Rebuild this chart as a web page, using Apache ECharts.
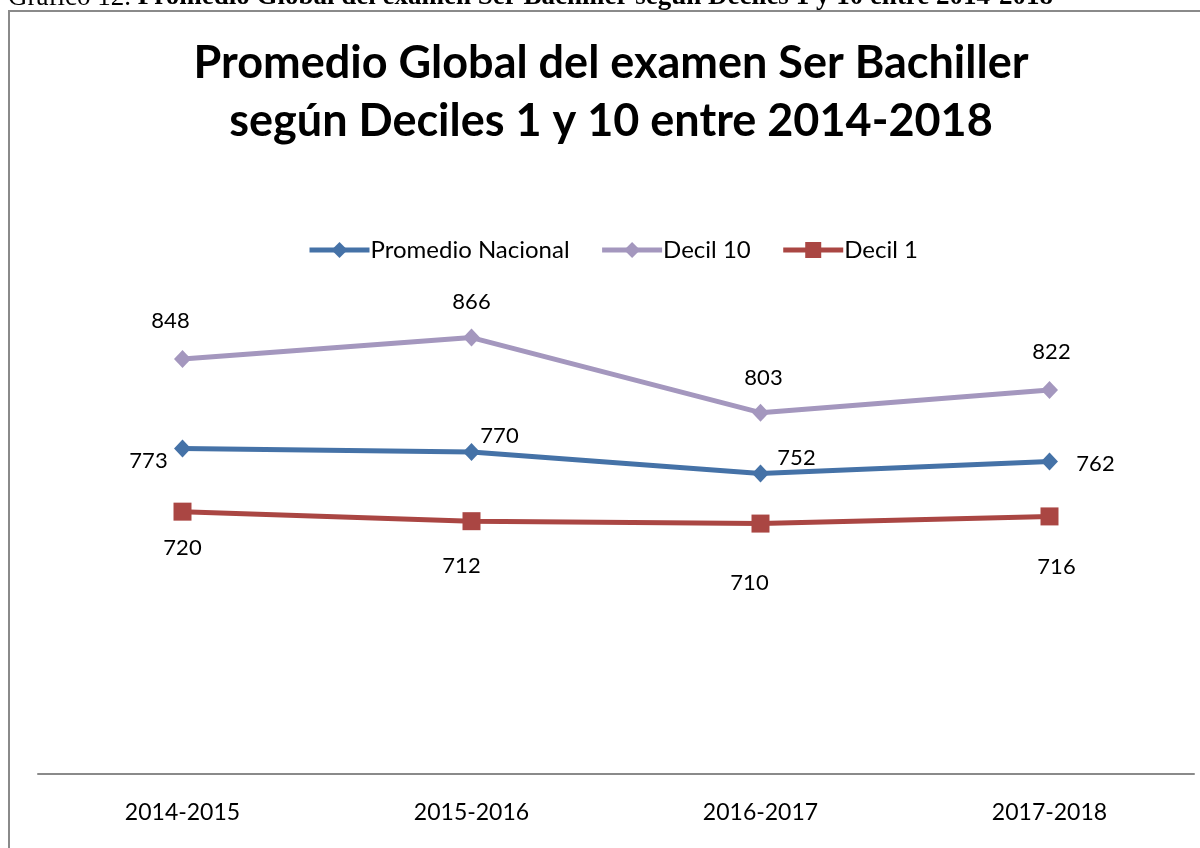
<!DOCTYPE html>
<html>
<head>
<meta charset="utf-8">
<script src="https://cdn.jsdelivr.net/npm/echarts@6/dist/echarts.min.js"></script>
<style>
html,body{margin:0;padding:0;background:#fff;}
#c{width:1200px;height:848px;}
</style>
</head>
<body>
<div id="c"></div>
<script>
var categories = ['2014-2015', '2015-2016', '2016-2017', '2017-2018'];
var seriesNames = ['Promedio Nacional', 'Decil 10', 'Decil 1'];
var promedioNacional = [773, 770, 752, 762];
var decil10 = [848, 866, 803, 822];
var decil1 = [720, 712, 710, 716];
var yMin = 500, yMax = 900;

var FONT = 'Lato';
var colors = ['#4572A7', '#A497BE', '#AA4643'];

// label offsets (style only)
var offPromedio = [[-34, 12], [28, -16], [36, -16], [46, 2]];
var offD10 = [[-12, -38], [0, -36], [3, -35], [2, -38]];
var offD1 = [[0, 36], [-10, 45], [-11, 59], [7, 50]];

function mkData(vals, offs) {
  return vals.map(function (v, i) {
    return { value: v, label: { offset: offs[i] } };
  });
}

var labelBase = { show: true, position: 'inside', color: '#000', fontFamily: FONT, fontSize: 22 };

var chart = echarts.init(document.getElementById('c'), null, { renderer: 'canvas' });
chart.setOption({
  animation: false,
  backgroundColor: '#fff',
  title: {
    text: 'Promedio Global del examen Ser Bachiller\nsegún Deciles 1 y 10 entre 2014-2018',
    left: 606,
    textAlign: 'center',
    top: 29,
    textStyle: { fontFamily: FONT, fontWeight: 'bold', fontSize: 45, lineHeight: 58, color: '#000' }
  },
  legend: {
    top: 233,
    left: 302,
    itemWidth: 60,
    itemHeight: 20,
    itemGap: 30,
    lineStyle: { width: 5 },
    textStyle: { fontFamily: FONT, fontSize: 24, color: '#000', padding: [0, 0, 0, -4] },
    data: seriesNames
  },
  graphic: [
    {
      type: 'rect',
      shape: { x: 9, y: 11, width: 1220, height: 860 },
      style: { fill: 'none', stroke: '#8a8a8a', lineWidth: 2 },
      z: 0
    },
    {
      type: 'text',
      x: 8,
      y: 11,
      style: {
        text: '{n|Gráfico 12. }{b|Promedio Global del examen Ser Bachiller según Deciles 1 y 10 entre 2014-2018}',
        verticalAlign: 'bottom',
        rich: {
          n: { fontFamily: 'Liberation Serif', fontSize: 27, fill: '#000' },
          b: { fontFamily: 'Liberation Serif', fontSize: 27, fontWeight: 'bold', fill: '#000' }
        }
      }
    }
  ],
  grid: { left: 38, right: 6, top: 297, bottom: 74, containLabel: false },
  xAxis: {
    type: 'category',
    data: categories,
    boundaryGap: true,
    axisLine: { lineStyle: { color: '#8a8a8a', width: 2 } },
    axisTick: { show: false },
    axisLabel: { fontFamily: FONT, fontSize: 23, color: '#000', margin: 27 }
  },
  yAxis: {
    type: 'value',
    min: yMin,
    max: yMax,
    show: false,
    splitLine: { show: false }
  },
  series: [
    {
      name: seriesNames[0], type: 'line', data: mkData(promedioNacional, offPromedio),
      symbol: 'diamond', symbolSize: [17, 18],
      lineStyle: { width: 5, color: colors[0] }, itemStyle: { color: colors[0] },
      label: labelBase, z: 3
    },
    {
      name: seriesNames[1], type: 'line', data: mkData(decil10, offD10),
      symbol: 'diamond', symbolSize: [17, 18],
      lineStyle: { width: 5, color: colors[1] }, itemStyle: { color: colors[1] },
      label: labelBase, z: 2
    },
    {
      name: seriesNames[2], type: 'line', data: mkData(decil1, offD1),
      symbol: 'rect', symbolSize: 18,
      lineStyle: { width: 5, color: colors[2] }, itemStyle: { color: colors[2] },
      label: labelBase, z: 4
    }
  ]
});
</script>
</body>
</html>
